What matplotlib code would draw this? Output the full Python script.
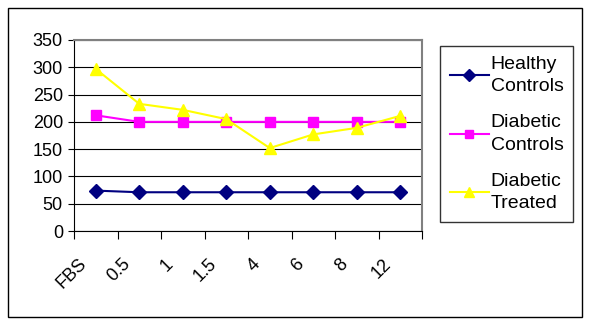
import matplotlib.pyplot as plt
from matplotlib.patches import Rectangle
from matplotlib.transforms import ScaledTranslation
import numpy as np

plt.rcParams['font.family'] = ['Liberation Sans', 'DejaVu Sans']

categories = ['FBS', '0.5', '1', '1.5', '4', '6', '8', '12']
healthy = [74, 71, 71, 71, 71, 71, 71, 71]
diab_controls = [212, 200, 200, 200, 200, 200, 200, 200]
diab_treated = [297, 233, 222, 205, 152, 177, 189, 211]

W, H = 589, 325
fig = plt.figure(figsize=(W / 100, H / 100), dpi=100)

# outer chart border
fig.patches.append(Rectangle((8 / W, 1 - 317 / H), 574 / W, 309 / H,
                             transform=fig.transFigure, fill=False,
                             edgecolor='black', linewidth=1))

ax = fig.add_axes([74 / W, 1 - 231 / H, 348 / W, 191 / H])
x = np.arange(len(categories)) + 0.5

ax.plot(x, healthy, color='#000080', marker='D', markersize=7, lw=1.5,
        label='Healthy\nControls')
ax.plot(x, diab_controls, color='#FF00FF', marker='s', markersize=7, lw=1.5,
        label='Diabetic\nControls')
ax.plot(x, diab_treated, color='#FFFF00', marker='^', markersize=8, lw=1.5,
        label='Diabetic\nTreated')

ax.set_xlim(0, len(categories))
ax.set_ylim(0, 350)
ax.set_yticks(range(0, 351, 50))
ax.yaxis.grid(True, color='black', lw=0.8)
ax.set_axisbelow(True)
ax.tick_params(axis='y', labelsize=13, length=4, color='black', pad=4)

# tick marks at category borders, labels at centres
ax.set_xticks(np.arange(len(categories) + 1))
ax.set_xticklabels([])
ax.tick_params(axis='x', which='major', length=6)
ax.set_xticks(x, minor=True)
ax.set_xticklabels(categories, minor=True, rotation=45, ha='right',
                   va='center', rotation_mode='anchor', fontsize=13)
ax.tick_params(axis='x', which='minor', length=0, pad=22)
shift = ScaledTranslation(-12 / 100, 0, fig.dpi_scale_trans)
for lab in ax.get_xticklabels(minor=True):
    lab.set_transform(lab.get_transform() + shift)

for side in ['top', 'right']:
    ax.spines[side].set_color('#808080')
    ax.spines[side].set_linewidth(1.5)

leg = fig.legend(loc='upper left', bbox_to_anchor=(440 / W, 1 - 46 / H),
                 fontsize=14, frameon=True, fancybox=False, handlelength=2.0,
                 handletextpad=0.1, borderpad=0.5, labelspacing=1.0,
                 borderaxespad=0, markerscale=0.9)
leg.get_frame().set_edgecolor('black')
leg.get_frame().set_linewidth(1)
for t in leg.get_texts():
    t.set_multialignment('left')
    t.set_linespacing(1.4)

fig.savefig('out.png', dpi=100)
